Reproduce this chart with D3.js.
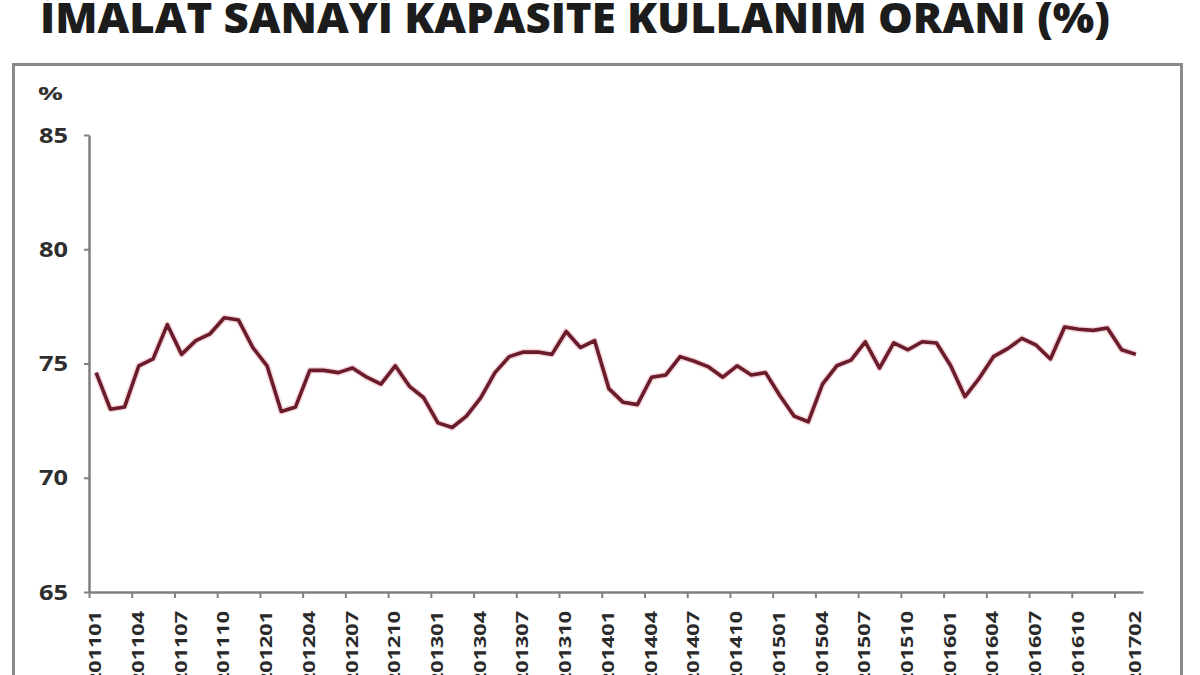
<!DOCTYPE html>
<html><head><meta charset="utf-8">
<script src="https://cdn.jsdelivr.net/npm/d3@7"></script>
<style>body{margin:0;background:#fff}svg{display:block}</style>
</head><body>
<svg id="c" width="1200" height="675"></svg>
<script>
const title = "İMALAT SANAYİ KAPASİTE KULLANIM ORANI (%)";
const unitLabel = "%";
const months = [
"201101","201102","201103","201104","201105","201106","201107","201108","201109","201110","201111","201112",
"201201","201202","201203","201204","201205","201206","201207","201208","201209","201210","201211","201212",
"201301","201302","201303","201304","201305","201306","201307","201308","201309","201310","201311","201312",
"201401","201402","201403","201404","201405","201406","201407","201408","201409","201410","201411","201412",
"201501","201502","201503","201504","201505","201506","201507","201508","201509","201510","201511","201512",
"201601","201602","201603","201604","201605","201606","201607","201608","201609","201610","201611","201612",
"201701","201702"];
const values = [
74.6,73.0,73.1,74.9,75.2,76.7,75.4,76.0,76.3,77.0,76.9,75.7,
74.9,72.9,73.1,74.7,74.7,74.6,74.8,74.4,74.1,74.9,74.0,73.5,
72.4,72.2,72.7,73.5,74.6,75.3,75.5,75.5,75.4,76.4,75.7,76.0,
73.9,73.3,73.2,74.4,74.5,75.3,75.1,74.85,74.4,74.9,74.5,74.6,
73.6,72.7,72.45,74.1,74.9,75.15,75.95,74.8,75.9,75.6,75.95,75.9,
74.9,73.55,74.35,75.3,75.65,76.1,75.8,75.2,76.6,76.5,76.45,76.55,
75.6,75.4];
const tickLabels = ["201101","201104","201107","201110","201201","201204","201207","201210",
"201301","201304","201307","201310","201401","201404","201407","201410",
"201501","201504","201507","201510","201601","201604","201607","201610","201702"];
const yTicks = [65,70,75,80,85];

const svg = d3.select("#c");
const n = months.length;
const x = d3.scaleLinear().domain([-0.5, n - 0.5]).range([89, 1143]);
const y = d3.scaleLinear().domain([65, 85]).range([592, 135]);

// panel border
svg.append("rect").attr("x", 13.5).attr("y", 64.5).attr("width", 1168).attr("height", 700)
  .attr("fill", "none").attr("stroke", "#8a8a8a").attr("stroke-width", 3);

// title
svg.append("text").attr("x", 40).attr("y", 33)
  .attr("font-family", "Open Sans").attr("font-weight", 800).attr("font-size", 42)
  .attr("fill", "#1c1c1c").attr("textLength", 1070).attr("lengthAdjust", "spacingAndGlyphs")
  .text(title);

// unit label
svg.append("text").attr("x", 38).attr("y", 100)
  .attr("font-family", "Open Sans").attr("font-weight", 700).attr("font-size", 18)
  .attr("fill", "#333").attr("textLength", 25).attr("lengthAdjust", "spacingAndGlyphs")
  .text(unitLabel);

// y axis
const yAxis = svg.append("g").attr("transform", "translate(89,0)")
  .call(d3.axisLeft(y).tickValues(yTicks).tickSize(5).tickSizeOuter(0).tickFormat(""));
yAxis.select(".domain").attr("stroke", "#808080").attr("stroke-width", 2.5);
yAxis.selectAll(".tick line").attr("stroke", "#808080").attr("stroke-width", 2);

svg.append("g").selectAll("text").data(yTicks).join("text")
  .attr("x", 68).attr("y", d => y(d)).attr("dy", "0.36em").attr("text-anchor", "end")
  .attr("font-family", "Open Sans").attr("font-weight", 700).attr("font-size", 21)
  .attr("fill", "#2e2e2e").attr("textLength", 29).attr("lengthAdjust", "spacingAndGlyphs")
  .text(d => d);

// x axis
const boundaries = d3.range(-0.5, n - 1, 3);
const xAxis = svg.append("g").attr("transform", "translate(0,592)")
  .call(d3.axisBottom(x).tickValues(boundaries).tickSize(6).tickSizeOuter(0).tickFormat(""));
xAxis.select(".domain").attr("stroke", "#808080").attr("stroke-width", 2.5);
xAxis.selectAll(".tick line").attr("stroke", "#808080").attr("stroke-width", 2);

svg.append("g").selectAll("text").data(tickLabels).join("text")
  .attr("transform", d => `translate(${x(months.indexOf(d)) + 5},611) rotate(-90)`)
  .attr("text-anchor", "end")
  .attr("font-family", "Open Sans").attr("font-weight", 700).attr("font-size", 15.5)
  .attr("fill", "#2a2a2a").attr("textLength", 74).attr("lengthAdjust", "spacingAndGlyphs")
  .text(d => d);

// line
const line = d3.line().x((d, i) => x(i)).y(d => y(d));
svg.append("path").datum(values).attr("d", line).attr("fill", "none")
  .attr("stroke", "#e7a9b3").attr("stroke-width", 6.5).attr("stroke-opacity", 0.45)
  .attr("stroke-linejoin", "round");
svg.append("path").datum(values).attr("d", line).attr("fill", "none")
  .attr("stroke", "#6a1c2b").attr("stroke-width", 3.6).attr("stroke-linejoin", "round");
</script>
</body></html>
